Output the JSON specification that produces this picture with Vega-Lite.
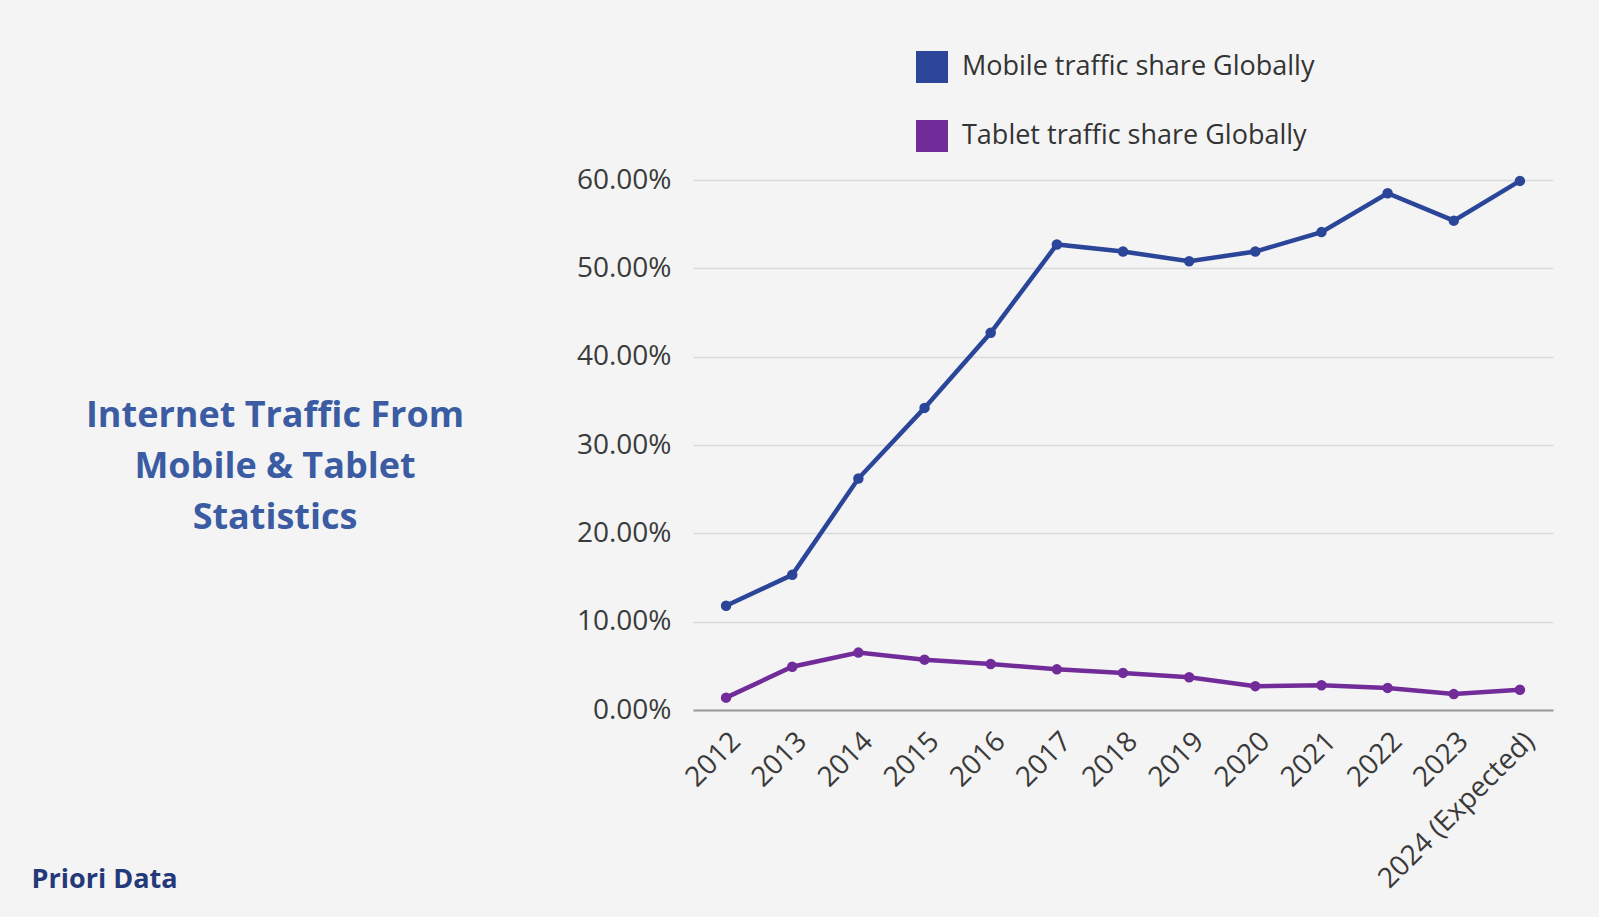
{
  "$schema": "https://vega.github.io/schema/vega-lite/v6.json",
  "width": 860,
  "height": 530,
  "autosize": {"type": "none"},
  "padding": {"left": 693, "top": 180, "right": 46, "bottom": 207},
  "background": "#f4f4f4",
  "config": {"view": {"stroke": null}, "font": "Open Sans"},
  "title": {
    "text": ["Internet Traffic From", "Mobile & Tablet", "Statistics"],
    "orient": "top",
    "anchor": "start",
    "frame": "group",
    "align": "center",
    "baseline": "top",
    "dx": -418,
    "dy": 486,
    "offset": 0,
    "font": "Open Sans",
    "fontSize": 36,
    "fontWeight": "bold",
    "color": "#3b5ca3",
    "lineHeight": 51
  },
  "data": {
    "values": [
      {"year": "2012", "series": "Mobile traffic share Globally", "share": 0.118},
      {"year": "2013", "series": "Mobile traffic share Globally", "share": 0.153},
      {"year": "2014", "series": "Mobile traffic share Globally", "share": 0.262},
      {"year": "2015", "series": "Mobile traffic share Globally", "share": 0.342},
      {"year": "2016", "series": "Mobile traffic share Globally", "share": 0.427},
      {"year": "2017", "series": "Mobile traffic share Globally", "share": 0.527},
      {"year": "2018", "series": "Mobile traffic share Globally", "share": 0.519},
      {"year": "2019", "series": "Mobile traffic share Globally", "share": 0.508},
      {"year": "2020", "series": "Mobile traffic share Globally", "share": 0.519},
      {"year": "2021", "series": "Mobile traffic share Globally", "share": 0.541},
      {"year": "2022", "series": "Mobile traffic share Globally", "share": 0.585},
      {"year": "2023", "series": "Mobile traffic share Globally", "share": 0.554},
      {"year": "2024 (Expected)", "series": "Mobile traffic share Globally", "share": 0.599},
      {"year": "2012", "series": "Tablet traffic share Globally", "share": 0.014},
      {"year": "2013", "series": "Tablet traffic share Globally", "share": 0.049},
      {"year": "2014", "series": "Tablet traffic share Globally", "share": 0.065},
      {"year": "2015", "series": "Tablet traffic share Globally", "share": 0.057},
      {"year": "2016", "series": "Tablet traffic share Globally", "share": 0.052},
      {"year": "2017", "series": "Tablet traffic share Globally", "share": 0.046},
      {"year": "2018", "series": "Tablet traffic share Globally", "share": 0.042},
      {"year": "2019", "series": "Tablet traffic share Globally", "share": 0.037},
      {"year": "2020", "series": "Tablet traffic share Globally", "share": 0.027},
      {"year": "2021", "series": "Tablet traffic share Globally", "share": 0.028},
      {"year": "2022", "series": "Tablet traffic share Globally", "share": 0.025},
      {"year": "2023", "series": "Tablet traffic share Globally", "share": 0.018},
      {"year": "2024 (Expected)", "series": "Tablet traffic share Globally", "share": 0.023}
    ]
  },
  "mark": {"type": "line", "strokeWidth": 4.5, "point": {"filled": true, "size": 110}},
  "encoding": {
    "x": {
      "field": "year",
      "type": "ordinal",
      "sort": null,
      "axis": {
        "title": "Priori Data",
        "titleX": -662,
        "titleY": 177,
        "titleAlign": "left",
        "titleAngle": 0,
        "titleBaseline": "alphabetic",
        "titleFont": "Open Sans",
        "titleFontSize": 27,
        "titleFontWeight": "bold",
        "titleColor": "#24397a",
        "labelAngle": -45,
        "labelFontSize": 28,
        "labelColor": "#3a3a3a",
        "labelPadding": 17,
        "labelLimit": 0,
        "ticks": false,
        "grid": false,
        "domainColor": "#9a9a9a",
        "domainWidth": 2
      }
    },
    "y": {
      "field": "share",
      "type": "quantitative",
      "scale": {"domain": [0, 0.6]},
      "axis": {
        "title": null,
        "values": [0, 0.1, 0.2, 0.3, 0.4, 0.5, 0.6],
        "format": ".2%",
        "domain": false,
        "ticks": false,
        "labelFontSize": 28,
        "labelColor": "#3a3a3a",
        "labelPadding": 22,
        "gridColor": "#d9d9d9",
        "gridWidth": 1.5
      }
    },
    "color": {
      "field": "series",
      "type": "nominal",
      "scale": {
        "domain": ["Mobile traffic share Globally", "Tablet traffic share Globally"],
        "range": ["#2b4699", "#712c99"]
      },
      "legend": {
        "orient": "none",
        "legendX": 223,
        "legendY": -129,
        "direction": "vertical",
        "title": null,
        "padding": 0,
        "symbolType": "square",
        "symbolSize": 1024,
        "symbolStrokeWidth": 0,
        "symbolOpacity": 1,
        "labelFont": "Open Sans",
        "labelFontSize": 27,
        "labelLimit": 0,
        "labelColor": "#333333",
        "labelOffset": 14,
        "rowPadding": 37
      }
    }
  }
}
